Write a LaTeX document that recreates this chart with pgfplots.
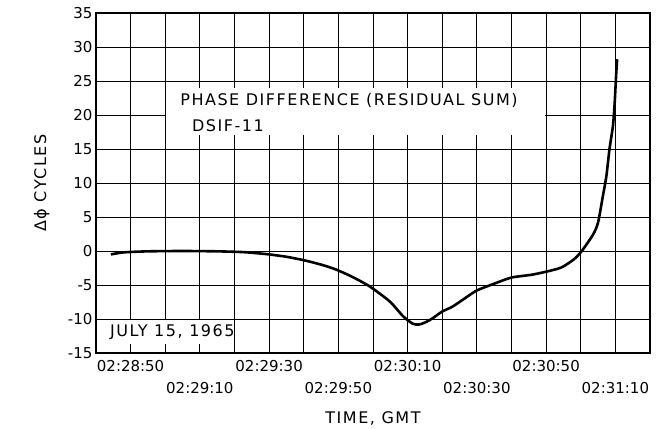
\documentclass[border=0pt]{standalone}
\usepackage{fontspec}
\setmainfont{DejaVu Sans}
\usepackage{pgfplots}
\pgfplotsset{compat=1.18}
\newcommand{\lblfont}{\fontsize{16}{19}\selectfont\addfontfeatures{LetterSpace=9.5}}
\newcommand{\tickfont}{\fontsize{15}{17}\selectfont}
\begin{document}
\begin{tikzpicture}
\begin{axis}[name=ax, scale only axis, width=554pt, height=340pt,
  xmin=0, xmax=160, ymin=-15, ymax=35,
  xtick={0,10,...,160},
  xticklabels={,02:28:50,,,,02:29:30,,,,02:30:10,,,,02:30:50,,,},
  xticklabel style={font=\tickfont, yshift=-4pt},
  extra x ticks={30,70,110,150},
  extra x tick labels={02:29:10,02:29:50,02:30:30,02:31:10},
  extra x tick style={grid=none, xticklabel style={yshift=-22pt}},
  ytick={-15,-10,...,35},
  yticklabels={-15,-10,-5,0,5,10,15,20,25,30,35},
  yticklabel style={font=\tickfont, xshift=0pt},
  grid=major, major grid style={black, line width=0.8pt},
  major tick length=0pt,
  axis line style={black, line width=1.3pt},
  xlabel={TIME, GMT}, ylabel={Δϕ CYCLES},
  xlabel style={font=\lblfont, at={(axis description cs:0.5,-0.192)}, anchor=center},
  ylabel style={font=\lblfont, at={(axis description cs:-0.098,0.5)}, anchor=center},
]
\fill[white] (axis cs:20.2,17) rectangle (axis cs:129.8,24);
\fill[white] (axis cs:0.3,-13.7) rectangle (axis cs:39.8,-10.15);
\node[anchor=west, font=\lblfont, inner sep=0pt] at (axis cs:24.3,22.2) {PHASE DIFFERENCE (RESIDUAL SUM)};
\node[anchor=west, font=\lblfont, inner sep=0pt] at (axis cs:27.7,18.4) {DSIF-11};
\node[anchor=west, font=\lblfont, inner sep=0pt] at (axis cs:4.0,-11.9) {JULY 15, 1965};
\addplot[black, line width=2.6pt, smooth, tension=0.4] table {
x y
4.3 -0.5
8 -0.2
15 -0.05
25 0
35 -0.05
42 -0.15
46 -0.3
50 -0.5
55 -0.85
60 -1.35
65 -2.0
69.2 -2.7
74 -3.8
79 -5.2
84.8 -7.4
88.7 -9.6
91.5 -10.7
93.4 -10.8
95.5 -10.4
97.2 -9.9
100 -8.9
102.9 -8.2
106.7 -6.9
110 -5.8
115.3 -4.75
120 -3.9
125.7 -3.5
129.5 -3.1
134.3 -2.45
138.1 -1.2
140.3 0
143.6 2.45
145 4.2
146.4 8.1
147.4 11
148.3 15
149.3 18.4
149.8 21.8
150.2 25.7
150.5 28.2
};
\end{axis}
\path (ax.south west) ++(-96pt,-74pt) rectangle ++(656pt,427pt);
\end{tikzpicture}
\end{document}
